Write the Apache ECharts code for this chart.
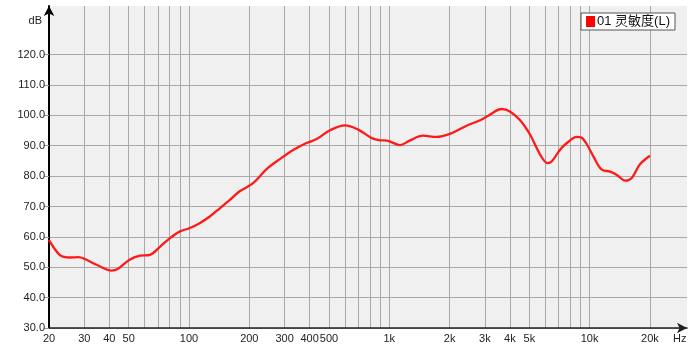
<!DOCTYPE html>
<html><head><meta charset="utf-8">
<script src="https://cdn.jsdelivr.net/npm/echarts@6/dist/echarts.min.js"></script>
<style>html,body{margin:0;padding:0;background:#fff}#c{width:694px;height:354px}</style>
</head><body><div id="c"></div>
<script>
const seriesName = '01 灵敏度(L)';
const freqs = [20,22.7,25.5,28,30,34.6,41,44,50.5,56.9,63.8,71.8,80.4,90.2,101,113,127,143,160,179,209,244,284,333,386,434,506,602,700,818,900,975,1130,1264,1474,1720,2008,2430,2838,3120,3640,4000,4500,5040,5660,6160,6480,7120,7700,8630,9140,9600,10440,11500,12680,13680,15040,16240,17800,20000];
const spl = [59.0,54.0,53.2,53.3,52.8,50.8,48.9,49.4,52.5,53.8,54.1,56.8,59.6,61.8,62.9,64.5,66.7,69.5,72.2,75.0,77.7,82.3,85.6,88.7,90.9,92.2,95.1,96.7,95.3,92.5,91.8,91.7,90.2,91.7,93.3,92.9,93.9,96.6,98.4,99.9,102.1,101.3,98.4,93.7,87.1,84.3,84.9,88.7,90.9,92.9,92.6,90.9,86.5,82.1,81.5,80.4,78.5,79.4,83.8,86.7];
const gridFreqs = [20,30,40,50,60,70,80,90,100,200,300,400,500,600,700,800,900,1000,2000,3000,4000,5000,6000,7000,8000,9000,10000,20000];
const labelFreqs = [20,30,40,50,100,200,300,400,500,1000,2000,3000,4000,5000,10000,20000];
const yTicks = [30,40,50,60,70,80,90,100,110,120];
const xMinHz = 20, xMaxHz = 30630, yMin = 30, yMax = 136;

const lg = Math.log10;
function fmtHz(v){
  let best = labelFreqs[0];
  labelFreqs.forEach(function(l){ if (Math.abs(lg(l) - v) < Math.abs(lg(best) - v)) best = l; });
  return best >= 1000 ? (best/1000) + 'k' : String(best);
}
const chart = echarts.init(document.getElementById('c'));
const font = 'Liberation Sans, Arial, Noto Sans CJK SC, sans-serif';
chart.setOption({
  animation: false,
  backgroundColor: '#ffffff',
  grid: {left: 49, right: 7, top: 6, bottom: 26, show: true, backgroundColor: '#f0f0f0', borderWidth: 0},
  legend: {
    show: true, right: 19, top: 13, padding: [2, 5, 2, 5],
    backgroundColor: '#ffffff', borderColor: '#555', borderWidth: 1, borderRadius: 0,
    icon: 'rect', itemWidth: 9, itemHeight: 11, itemGap: 4,
    textStyle: {fontFamily: font, fontSize: 13, color: '#111', padding: [0, 0, 0, -3]},
    data: [seriesName]
  },
  xAxis: {
    type: 'value', min: lg(xMinHz), max: lg(xMaxHz),
    name: 'Hz', nameLocation: 'end', nameGap: -14,
    nameTextStyle: {fontFamily: font, fontSize: 11, color: '#222', align: 'left', verticalAlign: 'top', padding: [5, 0, 0, 0]},
    axisLine: {show: true, lineStyle: {color: '#222', width: 1.5}, symbol: ['none', 'arrow'], symbolSize: [8, 10]},
    axisTick: {show: false, customValues: gridFreqs.map(lg)},
    axisLabel: {customValues: labelFreqs.map(lg), formatter: fmtHz, fontFamily: font, fontSize: 11, color: '#222', margin: 5},
    splitLine: {show: true, lineStyle: {color: '#a9a9a9', width: 1}}
  },
  yAxis: {
    type: 'value', min: yMin, max: yMax,
    name: 'dB', nameLocation: 'end', nameGap: -20,
    nameTextStyle: {fontFamily: font, fontSize: 11, color: '#222', align: 'right', padding: [0, 7, 0, 0]},
    axisLine: {show: true, lineStyle: {color: '#000', width: 2}, symbol: ['none', 'arrow'], symbolSize: [8, 10]},
    axisTick: {show: true, length: 5, customValues: yTicks, lineStyle: {color: '#999'}},
    axisLabel: {customValues: yTicks, formatter: function(v){ return v.toFixed(1); }, fontFamily: font, fontSize: 11, color: '#222', margin: 4},
    splitLine: {show: true, lineStyle: {color: '#a9a9a9', width: 1}}
  },
  series: [{
    name: seriesName, type: 'line', smooth: 0.35, symbol: 'none',
    color: '#ff0000',
    lineStyle: {color: '#ff1a1a', width: 2.3},
    data: freqs.map(function(f, i){ return [lg(f), spl[i]]; }),
    z: 5
  }]
});
</script></body></html>
